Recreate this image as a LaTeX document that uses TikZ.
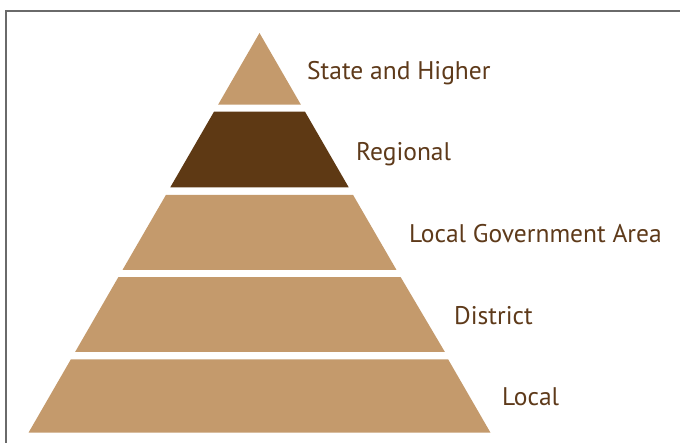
\documentclass[tikz,border=0pt]{standalone}
\usepackage{fontspec}
\setmainfont{PT Sans}
\definecolor{tan}{HTML}{C49A6C}
\definecolor{darkbrown}{HTML}{5E3914}
\definecolor{labelbrown}{HTML}{5E3A1A}
\definecolor{framegray}{HTML}{6A6A6A}
\tikzset{
  layer/.style={fill=tan, draw=none},
  toplayer/.style={fill=darkbrown, draw=none},
  lbl/.style={anchor=base west, inner sep=0pt, text=labelbrown, font=\fontsize{25.5}{25.5}\selectfont},
  frame/.style={draw=framegray, line width=1.4pt}
}
\begin{document}
\begin{tikzpicture}[x=1pt,y=-1pt]
\useasboundingbox (0,0) rectangle (680,443);
\fill[white] (0,0) rectangle (680,443);
\draw[frame] (6,443) -- (6,11) -- (680,11);
% pyramid layers
\path[layer] (259.5,33) -- (300.9,104.7) -- (218.1,104.7) -- cycle;
\path[toplayer] (214.0,111.7) -- (305.0,111.7) -- (348.7,187.3) -- (170.3,187.3) -- cycle;
\path[layer] (166.0,194.8) -- (353.0,194.8) -- (396.4,269.8) -- (122.6,269.8) -- cycle;
\path[layer] (118.3,277.2) -- (400.7,277.2) -- (444.9,352.0) -- (75.1,352.0) -- cycle;
\path[layer] (70.9,359.3) -- (448.1,359.3) -- (490.5,432.7) -- (28.5,432.7) -- cycle;
% labels
\node[lbl] (state) at (307,80) {State and Higher};
\node[lbl] (regional) at (356,161) {Regional};
\node[lbl] (lga) at (409,243) {Local Government Area};
\node[lbl] (district) at (454,325) {District};
\node[lbl] (local) at (502,406) {Local};
\end{tikzpicture}
\end{document}
